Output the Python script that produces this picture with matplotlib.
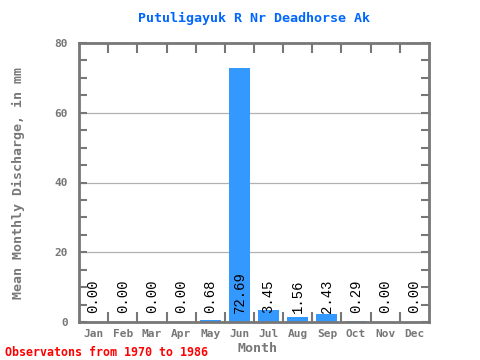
import matplotlib
matplotlib.use("Agg")
import matplotlib.pyplot as plt
import numpy as np

months = ["Jan", "Feb", "Mar", "Apr", "May", "Jun", "Jul", "Aug", "Sep", "Oct", "Nov", "Dec"]
values = [0.00, 0.00, 0.00, 0.00, 0.68, 72.69, 3.45, 1.56, 2.43, 0.29, 0.00, 0.00]
title = "Putuligayuk R Nr Deadhorse Ak"
ylabel = "Mean Monthly Discharge, in mm"
xlabel = "Month"
note = "Observatons from 1970 to 1986"

fig = plt.figure(figsize=(4.8, 3.6), dpi=100)
ax = fig.add_axes([79/480, 38/360, 350/480, 279/360])
mono = "DejaVu Sans Mono"
gray = "#777777"
x = np.arange(len(months))
ax.bar(x, values, width=0.72, color="#3399ff", zorder=2)
ax.set_xlim(-0.5, 11.5)
ax.set_ylim(0, 80)
for v in [20, 40, 60]:
    ax.axhline(v, color="#b0b0b0", lw=0.9, zorder=1)
for xi, v in zip(x, values):
    ax.text(xi, 2.5, f"{v:.2f}", rotation=90, ha="center", va="bottom",
            family="Liberation Mono", fontsize=10, color="black", zorder=3)

for s in ax.spines.values():
    s.set_color(gray)
    s.set_linewidth(2)

ax.set_yticks([0, 20, 40, 60, 80])
ax.set_yticks(np.arange(0, 81, 5), minor=True)
ax.set_xticks(x)
ax.set_xticklabels(months)
ax.set_xticks(np.arange(0.5, 11.5, 1), minor=True)
ax.tick_params(axis="x", which="major", length=0, pad=5)
ax.tick_params(axis="x", which="minor", direction="in", length=7, width=1.5,
               color=gray, top=True, bottom=True)
ax.tick_params(axis="y", which="both", direction="in", length=6, width=1.5,
               color=gray, left=True, right=True)
ax.tick_params(axis="y", which="major", pad=8)
for lab in ax.get_xticklabels() + ax.get_yticklabels():
    lab.set_family(mono)
    lab.set_fontweight("bold")
    lab.set_color(gray)
    lab.set_fontsize(8)

fig.text(258/480, 1 - 348/360, xlabel, ha="center", va="center", family=mono,
         fontweight="bold", color=gray, fontsize=9.6)
fig.text(18/480, 1 - 183/360, ylabel, ha="center", va="center", rotation=90,
         family=mono, fontweight="bold", color=gray, fontsize=9.5)
fig.text(254/480, 1 - 18/360, title, ha="center", va="center", family=mono,
         fontweight="bold", color="#0066ff", fontsize=9.6)
fig.text(5/480, 1 - 352/360, note, ha="left", va="center", family=mono,
         fontweight="bold", color="#ff0000", fontsize=8.4)
fig.savefig("out.png", dpi=100)
